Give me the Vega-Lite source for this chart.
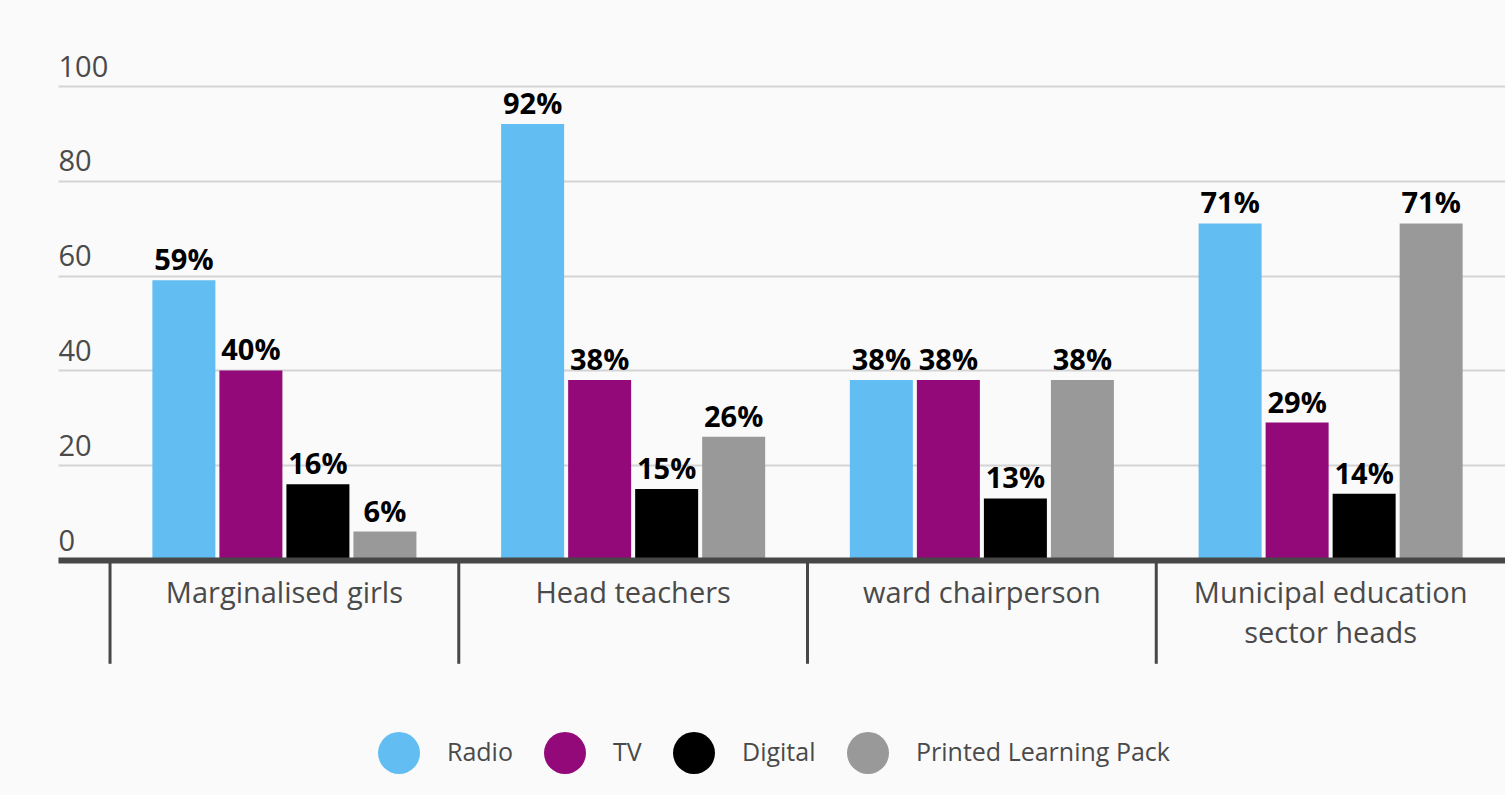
{
  "$schema": "https://vega.github.io/schema/vega-lite/v6.json",
  "autosize": {"type": "none"},
  "padding": {"left": 58, "top": 86, "right": 0, "bottom": 235},
  "width": 1447,
  "height": 474,
  "background": "#fafafa",
  "config": {"view": {"stroke": null}, "font": "Open Sans"},
  "datasets": {
    "bars": [
      {"group": "Marginalised girls", "channel": "Radio", "value": 59, "label": "59%"},
      {"group": "Marginalised girls", "channel": "TV", "value": 40, "label": "40%"},
      {"group": "Marginalised girls", "channel": "Digital", "value": 16, "label": "16%"},
      {"group": "Marginalised girls", "channel": "Printed Learning Pack", "value": 6, "label": "6%"},
      {"group": "Head teachers", "channel": "Radio", "value": 92, "label": "92%"},
      {"group": "Head teachers", "channel": "TV", "value": 38, "label": "38%"},
      {"group": "Head teachers", "channel": "Digital", "value": 15, "label": "15%"},
      {"group": "Head teachers", "channel": "Printed Learning Pack", "value": 26, "label": "26%"},
      {"group": "ward chairperson", "channel": "Radio", "value": 38, "label": "38%"},
      {"group": "ward chairperson", "channel": "TV", "value": 38, "label": "38%"},
      {"group": "ward chairperson", "channel": "Digital", "value": 13, "label": "13%"},
      {"group": "ward chairperson", "channel": "Printed Learning Pack", "value": 38, "label": "38%"},
      {"group": "Municipal education sector heads", "channel": "Radio", "value": 71, "label": "71%"},
      {"group": "Municipal education sector heads", "channel": "TV", "value": 29, "label": "29%"},
      {"group": "Municipal education sector heads", "channel": "Digital", "value": 14, "label": "14%"},
      {"group": "Municipal education sector heads", "channel": "Printed Learning Pack", "value": 71, "label": "71%"}
    ],
    "groups": [
      {"group": "Marginalised girls"},
      {"group": "Head teachers"},
      {"group": "ward chairperson"},
      {"group": "Municipal education sector heads"}
    ]
  },
  "layer": [
    {
      "data": {"name": "bars"},
      "mark": {"type": "bar"},
      "encoding": {
        "x": {
          "field": "group", "type": "nominal",
          "sort": ["Marginalised girls", "Head teachers", "ward chairperson", "Municipal education sector heads"],
          "scale": {"paddingInner": 0, "paddingOuter": 0.0746, "align": 1},
          "axis": {
            "title": null, "labelAngle": 0, "labelFontSize": 29, "labelColor": "#4a4a4a",
            "labelFont": "Open Sans", "labelPadding": 42, "labelBaseline": "alphabetic",
            "labelLineHeight": 40, "labelLimit": 0, "ticks": false, "domainColor": "#474747", "domainWidth": 6,
            "zindex": 1,
            "labelExpr": "datum.label == 'Municipal education sector heads' ? ['Municipal education', 'sector heads'] : datum.label"
          }
        },
        "xOffset": {
          "field": "channel", "type": "nominal",
          "sort": ["Radio", "TV", "Digital", "Printed Learning Pack"],
          "scale": {"paddingInner": 0.06, "paddingOuter": 0.632}
        },
        "y": {
          "field": "value", "type": "quantitative",
          "scale": {"domain": [0, 100]},
          "axis": {
            "title": null, "values": [0, 20, 40, 60, 80, 100], "domain": false, "ticks": false,
            "labelAlign": "left", "labelPadding": 0, "labelBaseline": "alphabetic", "labelOffset": -10,
            "labelFontSize": 29, "labelColor": "#4a4a4a", "labelFont": "Open Sans",
            "gridColor": "#d4d4d4", "gridWidth": 2, "zindex": 0
          }
        },
        "color": {
          "field": "channel", "type": "nominal",
          "scale": {"domain": ["Radio", "TV", "Digital", "Printed Learning Pack"], "range": ["#62bdf2", "#93097a", "#000000", "#999999"]},
          "legend": {
            "orient": "none", "legendX": 320, "legendY": 646, "direction": "horizontal",
            "title": null, "symbolType": "circle", "symbolSize": 1764, "symbolStrokeWidth": 0,
            "symbolOpacity": 1, "labelFontSize": 25, "labelColor": "#4a4a4a", "labelFont": "Open Sans",
            "labelOffset": 27, "columnPadding": 31, "padding": 0, "labelLimit": 0
          }
        }
      }
    },
    {
      "data": {"name": "bars"},
      "mark": {"type": "text", "fontSize": 29, "fontWeight": "bold", "color": "#000000", "baseline": "alphabetic", "dy": -10, "font": "Open Sans"},
      "encoding": {
        "x": {"field": "group", "type": "nominal", "sort": ["Marginalised girls", "Head teachers", "ward chairperson", "Municipal education sector heads"]},
        "xOffset": {"field": "channel", "type": "nominal", "sort": ["Radio", "TV", "Digital", "Printed Learning Pack"]},
        "y": {"field": "value", "type": "quantitative"},
        "text": {"field": "label"}
      }
    },
    {
      "data": {"name": "groups"},
      "mark": {"type": "rule", "color": "#474747", "strokeWidth": 3},
      "encoding": {
        "x": {"field": "group", "type": "nominal", "sort": ["Marginalised girls", "Head teachers", "ward chairperson", "Municipal education sector heads"], "bandPosition": 0},
        "y": {"datum": 0},
        "y2": {"datum": -21.9}
      }
    }
  ]
}
